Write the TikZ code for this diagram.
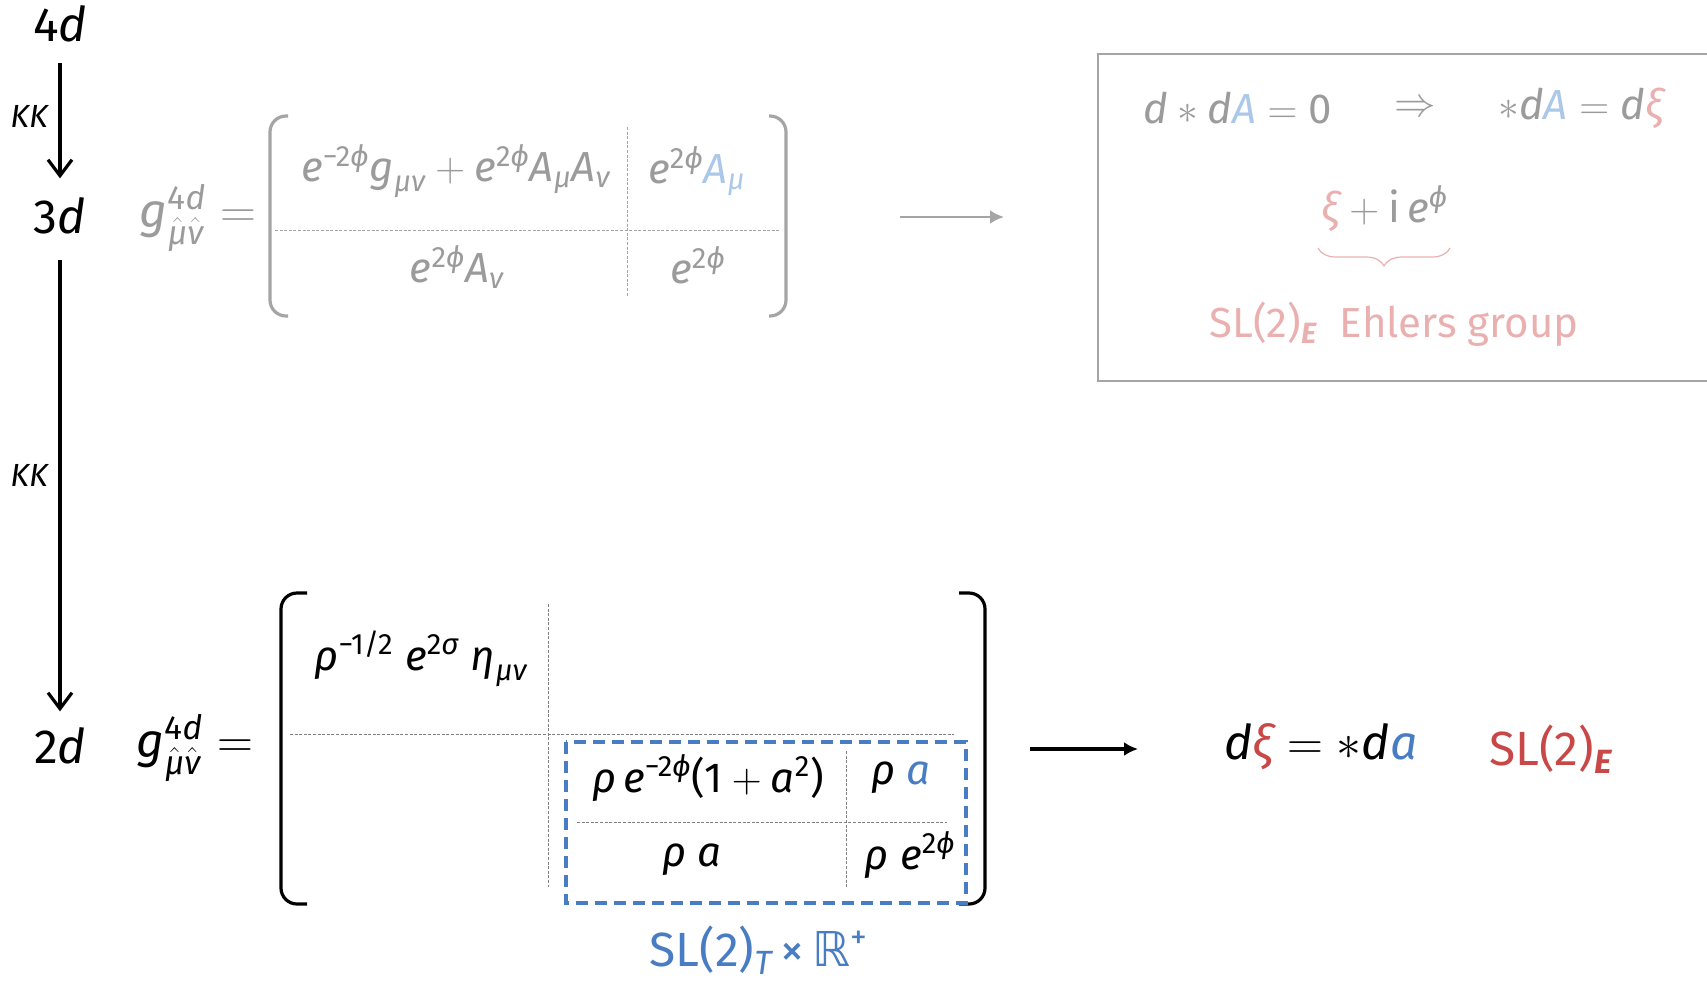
\documentclass[tikz,border=0pt]{standalone}
\usepackage{amsmath}
\usepackage{fontspec}
\setmainfont{Fira Sans}
\newfontfamily\dejavu{DejaVu Sans}
\usetikzlibrary{arrows.meta,decorations.pathreplacing}
\definecolor{gtext}{RGB}{155,155,155}
\definecolor{gline}{RGB}{165,165,165}
\definecolor{lblue}{RGB}{172,200,232}
\definecolor{lpink}{RGB}{234,176,176}
\definecolor{dred}{RGB}{200,72,72}
\definecolor{mblue}{RGB}{72,125,195}
\newcommand\iv[1]{\text{\itshape #1}}
\newcommand\tx[1]{\text{#1}}
\tikzset{
  lbl/.style={font=\fontsize{24}{28}\selectfont, inner sep=0pt},
  ent/.style={font=\fontsize{21}{25}\selectfont, inner sep=0pt},
  kk/.style={font=\fontsize{16}{18}\selectfont\itshape, inner sep=0pt},
  cellline/.style={dash pattern=on 1.5pt off 0.8pt, line width=0.5pt},
  paren/.style={line width=1.6pt, rounded corners=8pt},
  kkarrow/.style={line width=1.6pt, -{Straight Barb[length=8pt,width=12pt,line width=1.6pt]}},
  harrow/.style={-{Latex[length=7pt,width=7pt]}},
}
\begin{document}
\begin{tikzpicture}[x=0.5pt,y=-0.5pt]
\useasboundingbox (0,0) rectangle (1707,981);
% dimension labels
\node[lbl] (d4) at (60,24) {4\textit{d}};
\node[lbl] (d3) at (60,216) {3\textit{d}};
\node[lbl] (d2) at (60,746) {2\textit{d}};
\draw[kkarrow, shorten <=10pt, shorten >=9.5pt] (d4) -- (d3);
\draw[kkarrow, shorten <=12.5pt, shorten >=8pt] (d3) -- (d2);
\node[kk] (kk1) at (29,116) {KK};
\node[kk] (kk2) at (29,475) {KK};

% ---- 3d metric (gray)
\node[lbl, text=gtext] (g3) at (198,218) {$\iv{g}^{\tx{4}\iv{d}}_{\hat{\iv{μ}}\hat{\iv{ν}}}=$};
\draw[paren, gline] (288,116) -- (270,116) -- (270,316) -- (288,316);
\draw[paren, gline] (769,116) -- (786,116) -- (786,316) -- (769,316);
\draw[cellline, gline] (275,230) -- (780,230);
\draw[cellline, gline] (627,127) -- (627,296);
\node[ent, text=gtext] (t11) at (456,171) {$\iv{e}^{\tx{−2}\iv{ϕ}}\iv{g}_{\iv{μν}}+\iv{e}^{\tx{2}\iv{ϕ}}\iv{A}_{\iv{μ}}\iv{A}_{\iv{ν}}$};
\node[ent, text=gtext] (t12) at (697,171) {$\iv{e}^{\tx{2}\iv{ϕ}}{\color{lblue}\iv{A}_{\iv{μ}}}$};
\node[ent, text=gtext] (t21) at (457,267) {$\iv{e}^{\tx{2}\iv{ϕ}}\iv{A}_{\iv{ν}}$};
\node[ent, text=gtext] (t22) at (698,265) {$\iv{e}^{\tx{2}\iv{ϕ}}$};
\coordinate (a1) at (900,217);
\coordinate (a2) at (1004,217);
\draw[harrow, gline, line width=1.4pt] (a1) -- (a2);

% ---- Ehlers box
\draw[gline, line width=1.2pt] (1098,54) rectangle (1720,381);
\node[ent, text=gtext] (e1) at (1238,108) {$\iv{d}\ast\iv{d}{\color{lblue}\iv{A}}=\tx{0}$};
\node[ent, text=gtext] (e2) at (1415,109) {$\Rightarrow$};
\node[ent, text=gtext] (e3) at (1581,108) {$\ast\iv{d}{\color{lblue}\iv{A}}=\iv{d}{\color{lpink}\iv{ξ}}$};
\node[ent, text=gtext] (e4) at (1385,209) {${\color{lpink}\iv{ξ}}+\tx{i}\,\iv{e}^{\iv{ϕ}}$};
\coordinate (br1) at (1318,248);
\coordinate (br2) at (1450,248);
\draw[lpink, line width=0.6pt, decorate, decoration={brace, mirror, amplitude=9pt}] (br1) -- (br2);
\node[lbl, text=lpink, font=\fontsize{21}{25}\selectfont] (ehl) at (1394,324) {SL(2)$_{\text{\bfseries\itshape E}}$\ \ Ehlers group};

% ---- 2d metric (black)
\node[lbl] (g2) at (195,748) {$\iv{g}^{\tx{4}\iv{d}}_{\hat{\iv{μ}}\hat{\iv{ν}}}=$};
\draw[paren] (307,593) -- (281,593) -- (281,904) -- (307,904);
\draw[paren] (959,593) -- (985,593) -- (985,904) -- (959,904);
\draw[cellline, gray] (290,734) -- (954,734);
\draw[cellline, gray] (548,604) -- (548,887);
\draw[cellline, gray] (577,822) -- (947,822);
\draw[cellline, gray] (846,751) -- (846,887);
\draw[mblue, line width=1.6pt, dash pattern=on 6pt off 3.5pt] (566,742) rectangle (966,903);
\node[ent] (b11) at (421,659) {$\iv{ρ}^{\tx{−1/2}}\;\iv{e}^{\tx{2}\iv{σ}}\;\iv{η}_{\iv{μν}}$};
\node[ent] (b22) at (708,778) {$\iv{ρ}\,\iv{e}^{\tx{−2}\iv{ϕ}}\tx{(1}+\iv{a}^{\tx{2}}\tx{)}$};
\node[ent] (b23) at (901,778) {$\iv{ρ}\;{\color{mblue}\iv{a}}$};
\node[ent] (b32) at (692,860) {$\iv{ρ}\;\iv{a}$};
\node[ent] (b33) at (910,855) {$\iv{ρ}\;\iv{e}^{\tx{2}\iv{ϕ}}$};
\node[lbl, text=mblue] (slt) at (759,950) {SL(2)$_{\text{\itshape T}}$\,×\,{\dejavu ℝ}$^{\tx{+}}$};
\coordinate (b1) at (1030,749);
\coordinate (b2) at (1138,749);
\draw[harrow, line width=1.6pt] (b1) -- (b2);
\node[lbl] (res) at (1321,747) {$\iv{d}{\color{dred}\iv{ξ}}=\ast\iv{d}{\color{mblue}\iv{a}}$};
\node[lbl, text=dred] (sle) at (1551,749) {SL(2)$_{\text{\bfseries\itshape E}}$};
\end{tikzpicture}
\end{document}
